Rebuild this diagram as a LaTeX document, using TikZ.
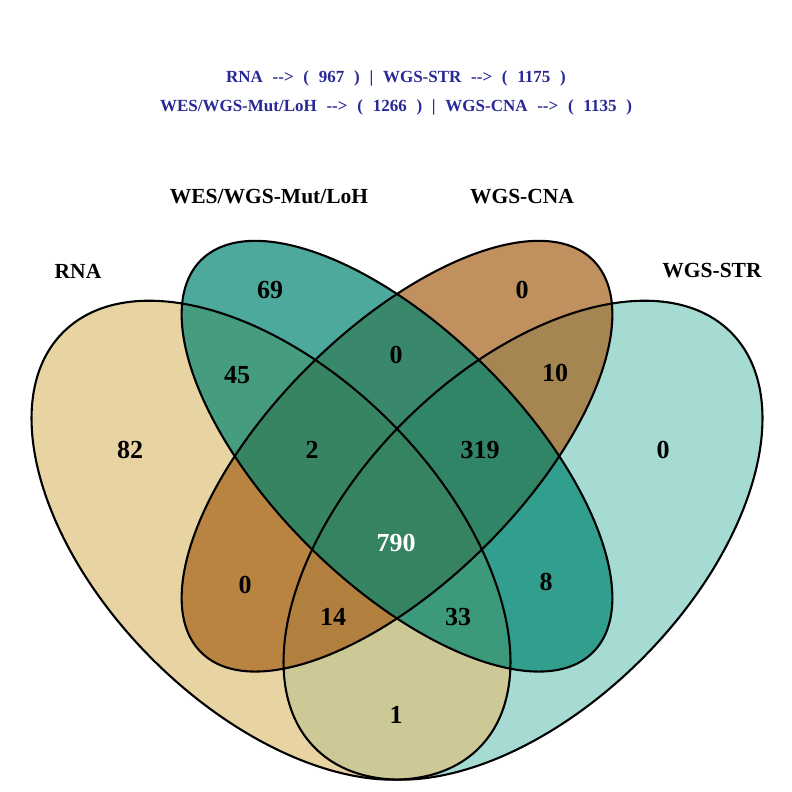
\documentclass[tikz,border=0pt]{standalone}
\usepackage{fontspec}
\setmainfont{Liberation Serif}
\definecolor{rnaC}{HTML}{DFC27D}
\definecolor{wesC}{HTML}{018571}
\definecolor{cnaC}{HTML}{A6611A}
\definecolor{strC}{HTML}{80CDC1}
\definecolor{titleblue}{RGB}{40,40,150}
\begin{document}
\begin{tikzpicture}[x=1pt,y=1pt,
  vset/.style={fill opacity=0.7},
  vline/.style={draw=black,line width=2.1pt},
  lab/.style={font=\fontsize{21.5}{25}\selectfont\bfseries, text=black},
  num/.style={font=\fontsize{26}{30}\selectfont\bfseries, text=black},
  ttl/.style={font=\fontsize{17}{20}\selectfont\bfseries, text=titleblue}]
\useasboundingbox (0,0) rectangle (792,-792);
\fill[white] (0,0) rectangle (792,-792);
\coordinate (cR) at (271,-540.2);
\coordinate (cS) at (523,-540.2);
\coordinate (cW) at (397,-456.2);
% fills
\fill[strC, vset, rotate around={45:(cS)}] (cS) ellipse (294pt and 168pt);
\fill[rnaC, vset, rotate around={135:(cR)}] (cR) ellipse (294pt and 168pt);
\fill[cnaC, vset, rotate around={45:(cW)}] (cW) ellipse (277.2pt and 126pt);
\fill[wesC, vset, rotate around={135:(cW)}] (cW) ellipse (277.2pt and 126pt);
% outlines
\draw[vline, rotate around={45:(cS)}] (cS) ellipse (294pt and 168pt);
\draw[vline, rotate around={135:(cR)}] (cR) ellipse (294pt and 168pt);
\draw[vline, rotate around={45:(cW)}] (cW) ellipse (277.2pt and 126pt);
\draw[vline, rotate around={135:(cW)}] (cW) ellipse (277.2pt and 126pt);
% title
\node[ttl] (t1) at (396,-78) {\spaceskip=9.75pt RNA -{}-> ( 967 ) | WGS-STR -{}-> ( 1175 )};
\node[ttl] (t2) at (396,-107) {\spaceskip=9.75pt WES/WGS-Mut/LoH -{}-> ( 1266 ) | WGS-CNA -{}-> ( 1135 )};
% set labels
\node[lab] (lR) at (78,-271) {RNA};
\node[lab] (lW) at (269,-197) {WES/WGS-Mut/LoH};
\node[lab] (lC) at (522,-197) {WGS-CNA};
\node[lab] (lS) at (712,-271) {WGS-STR};
% counts
\node[num] (n82) at (130,-450) {82};
\node[num] (n69) at (270,-290) {69};
\node[num] (n45) at (237,-375) {45};
\node[num] (n0a) at (396,-355) {0};
\node[num] (n0b) at (522,-290) {0};
\node[num] (n10) at (555,-373) {10};
\node[num] (n2) at (312,-450) {2};
\node[num] (n319) at (480,-450) {319};
\node[num] (n0c) at (663,-450) {0};
\node[num, text=white] (n790) at (396,-543) {790};
\node[num] (n0d) at (245,-585) {0};
\node[num] (n8) at (546,-582) {8};
\node[num] (n14) at (333,-617) {14};
\node[num] (n33) at (458,-617) {33};
\node[num] (n1) at (396,-715) {1};
\end{tikzpicture}
\end{document}
